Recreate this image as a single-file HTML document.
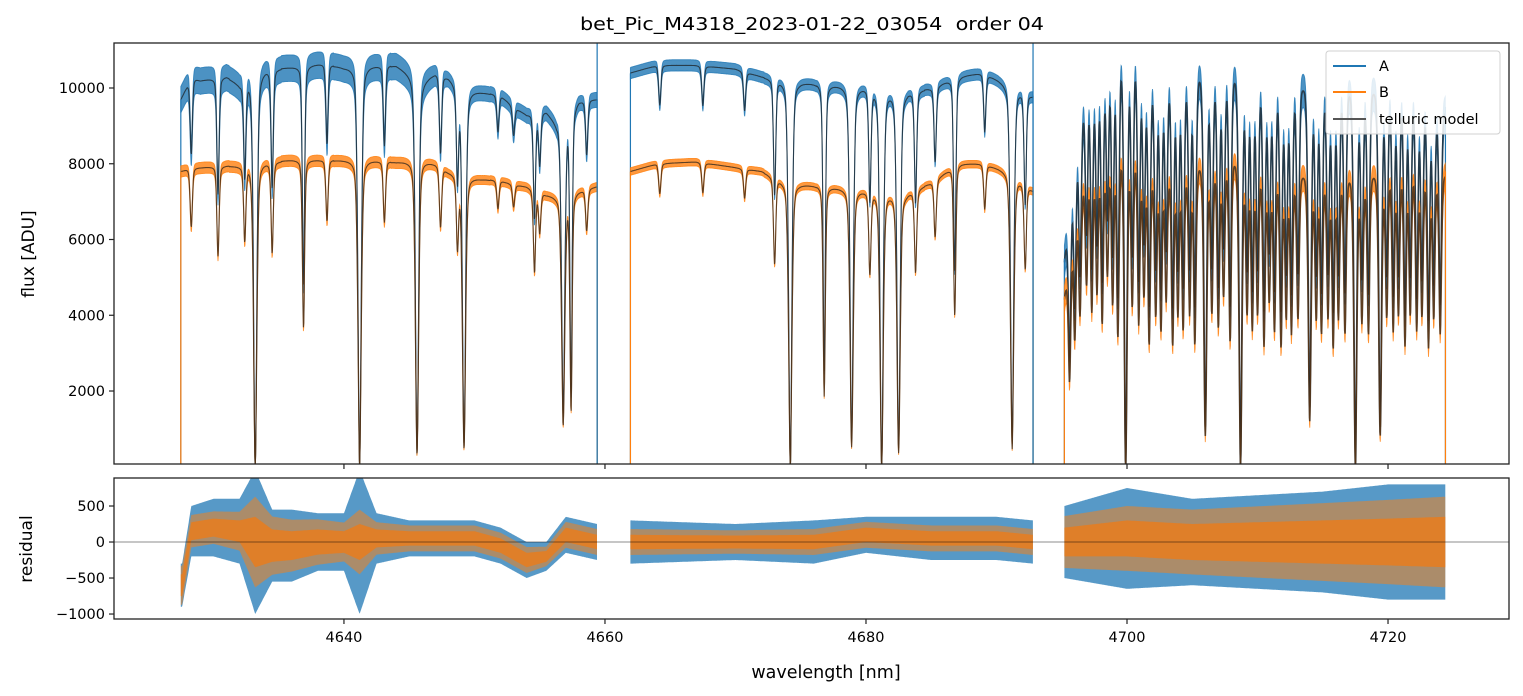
<!DOCTYPE html>
<html><head><meta charset="utf-8">
<style>
html,body{margin:0;padding:0;background:#fff;}
svg{display:block;font-family:"DejaVu Sans","Liberation Sans",sans-serif;}
</style></head>
<body>
<svg id="chart" width="1523" height="696" viewBox="0 0 1523 696" xmlns="http://www.w3.org/2000/svg">
  <text x="580" y="30" font-size="18" textLength="464" lengthAdjust="spacingAndGlyphs" fill="#000">bet_Pic_M4318_2023-01-22_03054&#160;&#160;order 04</text>
  <g id="top"></g>
  <g id="bot"></g>
  <text transform="translate(34,254) rotate(-90)" font-size="17" text-anchor="middle">flux [ADU]</text>
  <text transform="translate(32,549) rotate(-90)" font-size="17" text-anchor="middle">residual</text>
  <text x="826" y="678" font-size="17.5" text-anchor="middle">wavelength [nm]</text>
  <g id="legend"></g>
</svg>
<script>
// ---- data ----
const segments = [[4627.5,4659.4],[4661.95,4692.8],[4695.2,4724.4]];
const contW = [4627.5,4628.3,4629,4631,4632,4634,4636,4638.5,4640,4642,4644,4646,4647,4648,4649,4650.5,4652,4653,4654,4655.5,4656.3,4658,4659.4,
  4662,4664,4667,4670,4672,4674,4677,4680,4683,4685,4687,4689,4691,4692.8,
  4695.2,4696,4697,4699,4700.5,4702,4705,4708,4710,4713,4716,4718,4720,4722,4724.4];
const contA = [9700,10300,10200,10300,10100,10500,10550,10650,10550,10600,10600,10200,10400,10300,10000,9900,9800,9500,9300,9400,9100,9700,9700,
  10400,10600,10600,10500,10300,10200,10100,10050,9900,10000,10300,10400,10100,9800,
  5500,8500,10600,11400,11400,10600,10700,10700,10600,10300,10400,10200,10300,10200,9500];
const contB = [7800,7900,7900,7950,7950,8050,8100,8100,8100,8100,8050,8100,8000,7800,7700,7600,7550,7450,7400,7200,7150,7300,7400,
  7800,8000,8050,7900,7800,7500,7400,7300,7200,7500,8000,8000,7800,7300,
  4500,6800,8300,8800,8700,8100,8200,8400,8200,7900,8000,7800,8100,8200,7800];
const lineCenters = [4628.3,4630.35,4632.4,4633.2,4634.5,4636.9,4638.7,4641.2,4643.1,4645.6,4647.4,4648.7,4649.2,4651.8,4653.0,4654.6,4655.0,4656.8,4657.4,4658.6,
  4664.2,4667.5,4670.7,4673.0,4674.2,4676.8,4678.9,4680.3,4681.2,4682.5,4683.8,4685.3,4686.8,4689.1,4691.2,4692.2,
  4695.6,4696.0,4696.4,4696.9,4697.3,4697.7,4698.1,4698.5,4698.9,4699.3,4699.9,4700.4,4700.9,4701.3,4701.7,4702.2,4702.6,4703.0,4703.5,4703.9,4704.3,4704.8,4705.2,4706.0,4706.5,4707.0,4707.4,4707.9,4708.7,4709.2,4709.6,4710.0,4710.5,4710.9,4711.3,4711.8,4712.2,4712.6,4713.1,4714.0,4714.5,4714.9,4715.4,4715.8,4716.2,4716.7,4717.5,4718.0,4718.5,4719.4,4719.9,4720.4,4720.8,4721.3,4721.7,4722.2,4722.6,4723.1,4723.5,4724.0];
const lineDepths = [0.2,0.3,0.25,1.0,0.3,0.55,0.2,1.0,0.2,0.96,0.2,0.25,0.94,0.1,0.08,0.3,0.15,0.85,0.8,0.15,
  0.1,0.1,0.1,0.3,1.0,0.75,0.93,0.3,1.0,0.95,0.3,0.2,0.5,0.15,0.94,0.3,
  0.6,0.5,0.45,0.4,0.5,0.45,0.55,0.4,0.5,0.6,1.0,0.5,0.55,0.45,0.6,0.5,0.55,0.45,0.6,0.5,0.55,0.5,0.6,0.9,0.5,0.55,0.45,0.6,1.0,0.5,0.55,0.5,0.6,0.45,0.55,0.6,0.5,0.55,0.5,0.85,0.5,0.55,0.5,0.6,0.5,0.55,1.0,0.5,0.55,0.9,0.5,0.55,0.5,0.6,0.5,0.55,0.5,0.6,0.5,0.55];
const noiseW = [4627.5,4646,4648,4659.4,4662,4692.8,4695.2,4724.4];
const noiseA = [350,350,200,200,150,150,450,450];
const noiseB = [150,150,120,120,100,100,350,350];
const resW = [4627.6,4628.3,4630,4632,4633.2,4634.5,4636,4638,4640,4641.2,4642.5,4645,4648,4650,4652,4654,4655.5,4657,4659.4,
  4662,4670,4676,4680,4685,4690,4692.8,4695.2,4700,4705,4710,4715,4720,4724.4];
const resMean = [-600,150,200,150,0,-50,-50,0,0,0,50,50,50,50,-50,-250,-200,100,0,0,0,0,100,50,50,0,0,50,0,0,0,0,0];
const resAmpA = [300,350,400,450,1000,500,500,400,400,1000,350,250,250,250,250,250,200,250,250,300,250,300,250,300,300,300,500,700,600,650,700,800,800];
const resAmpB = [300,250,250,300,700,450,400,350,300,500,250,200,200,200,200,200,150,200,200,200,180,200,200,200,200,200,400,500,500,550,600,650,700];
const xTicks = [4640,4660,4680,4700,4720];
const yTicksTop = [2000,4000,6000,8000,10000];
const yTicksBot = [-1000,-500,0,500];

// ---- scales ----
const X0=114,X1=1509, WMIN=4622.38, WMAX=4729.27;
const T0=43,T1=464, FMIN=73, FMAX=11188;
const B0=478,B1=619, RMIN=-1069, RMAX=889;
const sx=w=>X0+(w-WMIN)/(WMAX-WMIN)*(X1-X0);
const sy=f=>T1-(f-FMIN)/(FMAX-FMIN)*(T1-T0);
const sr=r=>B1-(r-RMIN)/(RMAX-RMIN)*(B1-B0);
const NS='http://www.w3.org/2000/svg';
function el(tag,attrs,parent){const e=document.createElementNS(NS,tag);for(const k in attrs)e.setAttribute(k,attrs[k]);parent.appendChild(e);return e;}
function interp(xs,ys,x){if(x<=xs[0])return ys[0];for(let i=1;i<xs.length;i++){if(x<=xs[i]){const t=(x-xs[i-1])/(xs[i]-xs[i-1]);return ys[i-1]+t*(ys[i]-ys[i-1]);}}return ys[ys.length-1];}
function trans(w){let t=1;for(let i=0;i<lineCenters.length;i++){const dx=w-lineCenters[i];if(Math.abs(dx)>2)continue;const d=lineDepths[i];const g=lineCenters[i]>4695?(d>0.8?0.12:0.1):(d>0.8?0.13:0.09);const z=dx/g;t*=1-d*(0.6*Math.exp(-0.5*z*z)+0.4/(1+z*z));}return Math.max(t,0);}

const gTop=document.getElementById('top'), gBot=document.getElementById('bot');
const svgRoot=document.getElementById('chart');
const defs=el('defs',{},svgRoot);
const c1=el('clipPath',{id:'ct'},defs);el('rect',{x:X0,y:T0,width:X1-X0,height:T1-T0},c1);
const c2=el('clipPath',{id:'cb'},defs);el('rect',{x:X0,y:B0,width:X1-X0,height:B1-B0},c2);
const gt=el('g',{'clip-path':'url(#ct)'},gTop);
const gb=el('g',{'clip-path':'url(#cb)'},gBot);

function bandPoly(ws,center,amp,scale,parent,col,op,name){
  const yf=parent===gb?sr:sy;
  let up=[],lo=[];
  ws.forEach((w,i)=>{const m=center(w,i),a=amp(w,i)*scale;up.push(sx(w).toFixed(1)+','+yf(m+a).toFixed(1));lo.push(sx(w).toFixed(1)+','+yf(m-a).toFixed(1));});
  const p=el('polygon',{points:up.concat(lo.reverse()).join(' '),fill:col,'fill-opacity':op},parent);
  
  
  return p;
}

const STEP=0.03;
segments.forEach((seg,si)=>{
  const ws=[];for(let w=seg[0];w<=seg[1]+1e-9;w+=STEP)ws.push(w);
  const tr=ws.map(trans);
  ['A','B'].forEach(s=>{
    const cont=s==='A'?contA:contB, nz=s==='A'?noiseA:noiseB, col=s==='A'?'#1f77b4':'#ff7f0e';
    const f=ws.map((w,i)=>interp(contW,cont,w)*tr[i]);
    const b=bandPoly(ws,(w,i)=>f[i],(w,i)=>interp(noiseW,nz,w)*(0.4+0.6*tr[i]),1,gt,col,0.8,'spectrum-'+s+'-seg'+(si+1));
    b.setAttribute('stroke',col);b.setAttribute('stroke-width',0.9);b.setAttribute('stroke-opacity',0.8);
    const m=el('polyline',{points:ws.map((w,i)=>sx(w).toFixed(1)+','+sy(f[i]).toFixed(1)).join(' '),fill:'none',stroke:'#1a1a1a','stroke-opacity':0.7,'stroke-width':si===2?1.6:1.1},gt);
    
    
    [seg[0],seg[1]].forEach(w=>{const v=el('line',{x1:sx(w),x2:sx(w),y1:sy(interp(contW,cont,w)),y2:T1,stroke:col,'stroke-width':1.2},gt);
      
      });
  });
  const mean=w=>interp(resW,resMean,w);
  bandPoly(ws,mean,w=>interp(resW,resAmpA,w),1,gb,'#1f77b4',0.75,'residual-A-seg'+(si+1));
  bandPoly(ws,mean,w=>interp(resW,resAmpB,w),0.9,gb,'#ff7f0e',0.5,'residual-B-outer-seg'+(si+1));
  bandPoly(ws,mean,w=>interp(resW,resAmpB,w),0.5,gb,'#e47d22',0.9,'residual-B-seg'+(si+1));
});
[4659.4,4692.8].forEach(w=>{const v=el('line',{x1:sx(w),x2:sx(w),y1:T0,y2:T1,stroke:'#1f77b4','stroke-width':1.2},gt);
  
  });
const z=el('line',{x1:X0,x2:X1,y1:sr(0),y2:sr(0),stroke:'#000','stroke-opacity':0.6,'stroke-width':0.8},gBot);


[[T0,T1,gTop],[B0,B1,gBot]].forEach(([a,b,g])=>{const r=el('rect',{x:X0,y:a,width:X1-X0,height:b-a,fill:'none',stroke:'#222','stroke-width':1.3},g);
  
  });
xTicks.forEach(t=>{
  const x=sx(t);
  el('line',{x1:x,x2:x,y1:T1,y2:T1+5,stroke:'#222','stroke-width':1.2},gTop);
  el('line',{x1:x,x2:x,y1:B1,y2:B1+5,stroke:'#222','stroke-width':1.2},gBot);
  const tx=el('text',{x:x,y:B1+23,'font-size':14.5,'text-anchor':'middle'},gBot);tx.textContent=t;
  
  
});
yTicksTop.forEach(t=>{const y=sy(t);el('line',{x1:X0-5,x2:X0,y1:y,y2:y,stroke:'#222','stroke-width':1.2},gTop);
  const tx=el('text',{x:X0-9,y:y+5,'font-size':14.5,'text-anchor':'end'},gTop);tx.textContent=t;
  
  });
yTicksBot.forEach(t=>{const y=sr(t);el('line',{x1:X0-5,x2:X0,y1:y,y2:y,stroke:'#222','stroke-width':1.2},gBot);
  const tx=el('text',{x:X0-9,y:y+5,'font-size':14.5,'text-anchor':'end'},gBot);tx.textContent=t<0?'\u2212'+(-t):t;
  
  });
const lg=document.getElementById('legend');
el('rect',{x:1326,y:51,width:174,height:83,rx:3,fill:'#fff','fill-opacity':0.85,stroke:'#d0d0d0'},lg);
[['A','#1f77b4',66],['B','#ff7f0e',92],['telluric model','#555',119]].forEach(([lab,col,y])=>{
  const ln=el('line',{x1:1333,y1:y,x2:1366,y2:y,stroke:col,'stroke-width':2},lg);
  
  
  const tx=el('text',{x:1379,y:y+5,'font-size':14.5},lg);tx.textContent=lab;
  
  
});
svgRoot.appendChild(lg);
</script>
</body></html>
